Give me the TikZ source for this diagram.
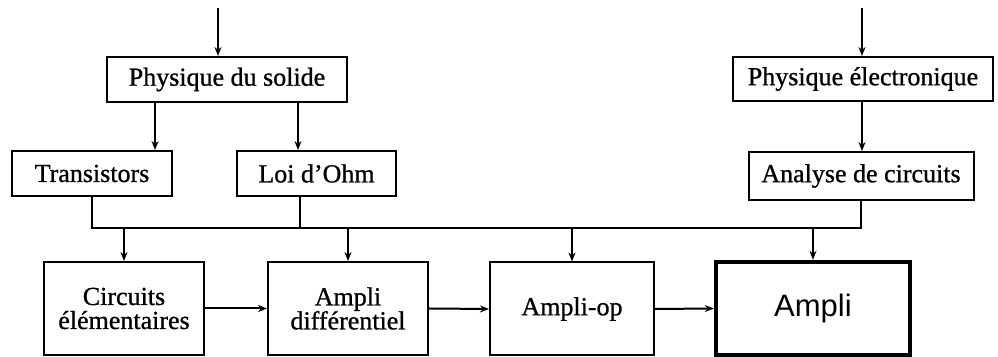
\documentclass[tikz,border=0pt]{standalone}
\usepackage{fontspec}
\setmainfont{Liberation Serif}
\newfontfamily\heavyserif[FakeBold=0.9,Ligatures=TeX]{Liberation Serif}
\newfontfamily\helv{Liberation Sans}
\usetikzlibrary{arrows.meta}
\begin{document}
\begin{tikzpicture}[x=0.5pt,y=-0.5pt,
  box/.style={draw, line width=1pt, rectangle, inner sep=0pt, align=center,
    font=\heavyserif\fontsize{13}{12}\selectfont},
  conn/.style={line width=1pt},
  arr/.style={line width=1pt, -{Stealth[length=4.5pt,width=3.5pt]}},
  thickbox/.style={draw, line width=2.2pt, rectangle, inner sep=0pt,
    font=\helv\fontsize{15.5}{18}\selectfont}]
\useasboundingbox (0,0) rectangle (998,357);
% nodes
\node[box, minimum width=120pt, minimum height=22.5pt] (pds) at (227,79.5) {Physique du solide};
\node[box, minimum width=130pt, minimum height=22pt] (pe) at (863,79) {Physique électronique};
\node[box, minimum width=80pt, minimum height=22.5pt] (tr) at (92,173.5) {Transistors};
\node[box, minimum width=79.5pt, minimum height=22.5pt] (lo) at (316.5,173.5) {Loi d’Ohm};
\node[box, minimum width=112.5pt, minimum height=24pt] (an) at (861,176) {Analyse de circuits};
\node[box, minimum width=80pt, minimum height=46.5pt] (ce) at (124,308.5) {Circuits\\élémentaires};
\node[box, minimum width=80pt, minimum height=46.5pt] (ad) at (348,308.5) {Ampli\\différentiel};
\node[box, minimum width=82pt, minimum height=46.5pt] (ao) at (572,309) {Ampli-op};
\node[thickbox, minimum width=97pt, minimum height=46.5pt] (am) at (813,308.5) {Ampli};
% free ends and helper points
\coordinate (inL) at (218,8);
\coordinate (inR) at (862,8);
\coordinate (d1) at (155,120);
\coordinate (d2) at (298,120);
\coordinate (busL) at (92,228);
\coordinate (busR) at (861,228);
\coordinate (busLo) at (300,228);
% input arrows
\draw[arr] (inL) -- (inL |- pds.north);
\draw[arr] (inR) -- (inR |- pe.north);
% physique du solide to children
\draw[arr] (d1 |- pds.south) -- (d1 |- tr.north);
\draw[arr] (d2 |- pds.south) -- (d2 |- lo.north);
\draw[arr] (pe.south -| inR) -- (an.north -| inR);
% bus
\draw[conn] (tr.south) -- (busL) -- (busR) -- (an.south);
\draw[conn] (busLo |- lo.south) -- (busLo);
\draw[arr] (ce.north |- busL) -- (ce.north);
\draw[arr] (ad.north |- busL) -- (ad.north);
\draw[arr] (ao.north |- busL) -- (ao.north);
\draw[arr] (am.north |- busL) -- (am.north);
% chain
\draw[arr] (ce.east) -- (ad.west);
\draw[arr] (ad.east) -- (ao.west);
\draw[arr] (ao.east) -- (am.west);
\end{tikzpicture}
\end{document}
